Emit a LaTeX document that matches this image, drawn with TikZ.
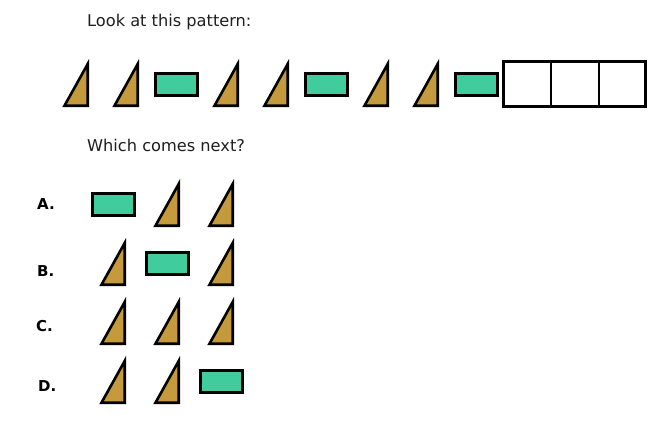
\documentclass[tikz,border=0pt]{standalone}
\usepackage{fontspec}
\setmainfont{DejaVu Sans}
\definecolor{gold}{HTML}{C49A3C}
\definecolor{mint}{HTML}{40CC9C}
\begin{document}
\begin{tikzpicture}[x=1pt,y=-1pt,
  shape line/.style={draw=black,line width=2.6pt},
  tri/.pic={\path[shape line,fill=gold] (1.5,-1.3) -- (24.7,-1.3) -- (24.7,-43) -- cycle;},
  blk/.pic={\path[shape line,fill=mint] (1.3,1.3) rectangle (43.7,23.7);},
  prompt/.style={anchor=base west,inner sep=0pt,font=\fontsize{16.2}{19}\selectfont,text=black!88},
  letter/.style={anchor=base west,inner sep=0pt,font=\fontsize{15}{18}\selectfont\bfseries}]
\useasboundingbox[fill=white] (0,0) rectangle (668,436);
\node[prompt] (t1) at (87,27) {Look at this pattern:};
% top row (pic anchor: triangle = bottom-left, block = top-left)
\pic at (63,107) {tri};
\pic at (113,107) {tri};
\pic at (154,72) {blk};
\pic at (213,107) {tri};
\pic at (263,107) {tri};
\pic at (304,72) {blk};
\pic at (363,107) {tri};
\pic at (413,107) {tri};
\pic at (454,72) {blk};
\draw[line width=2.6pt] (503.3,61.3) rectangle (645.7,106.7);
\draw[line width=2.6pt] (551,61.3) -- (551,106.7);
\draw[line width=2.6pt] (599,61.3) -- (599,106.7);
\node[prompt] (t2) at (87,151) {Which comes next?};
% options
\node[letter] (la) at (37,209) {A.};
\pic at (91,192) {blk};
\pic at (154,227) {tri};
\pic at (208,227) {tri};
\node[letter] (lb) at (37,276) {B.};
\pic at (100,286) {tri};
\pic at (145,251) {blk};
\pic at (208,286) {tri};
\node[letter] (lc) at (36,331) {C.};
\pic at (100,345) {tri};
\pic at (154,345) {tri};
\pic at (208,345) {tri};
\node[letter] (ld) at (38,391) {D.};
\pic at (100,404) {tri};
\pic at (154,404) {tri};
\pic at (199,369) {blk};
\end{tikzpicture}
\end{document}
